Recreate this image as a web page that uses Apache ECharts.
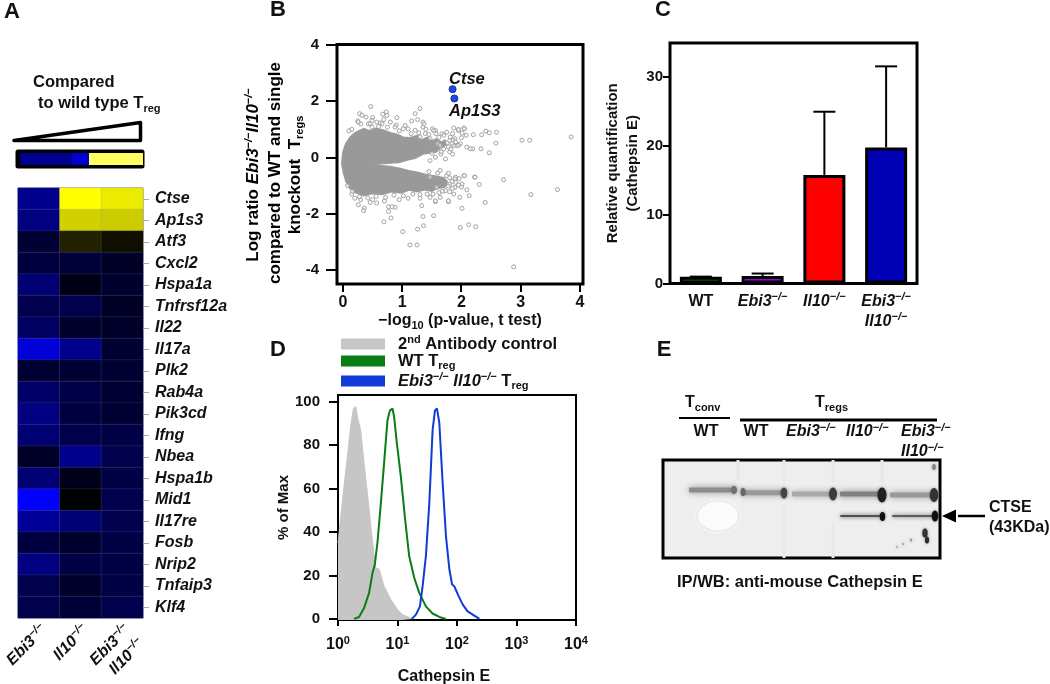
<!DOCTYPE html>
<html><head><meta charset="utf-8">
<style>html,body{margin:0;padding:0;background:#fff}#c{width:1050px;height:684px}</style>
<script src="https://cdn.jsdelivr.net/npm/echarts@6/dist/echarts.min.js"></script></head>
<body><div id="c"></div>
<script>
// Panel A
const genes=['Ctse','Ap1s3','Atf3','Cxcl2','Hspa1a','Tnfrsf12a','Il22','Il17a','Plk2','Rab4a','Pik3cd','Ifng','Nbea','Hspa1b','Mid1','Il17re','Fosb','Nrip2','Tnfaip3','Klf4'];
const genotypesA=['Ebi3','Il10','Ebi3+Il10'];
const ebi3Col=[-.55,-.5,-.2,-.25,-.45,-.3,-.38,-.85,-.2,-.4,-.5,-.45,-.15,-.45,-1,-.6,-.25,-.5,-.3,-.3];
const il10Col=[1,.82,.13,-.22,-.08,-.3,-.17,-.55,-.2,-.28,-.25,-.3,-.55,-.1,0,-.45,-.18,-.27,-.17,-.22];
const dkoCol=[.92,.8,.06,-.15,-.18,-.15,-.17,-.2,-.2,-.2,-.2,-.27,-.3,-.27,-.3,-.3,-.27,-.27,-.27,-.3];
// Panel B
const ticksBx=[0,1,2,3,4];
const ticksBy=[-4,-2,0,2,4];
const cloudOutline=[[-.02,-.22],[0,.2],[.05,.5],[.12,.72],[.2,.88],[.35,1.03],[.45,.95],[.55,1.03],[.68,.98],[.8,.88],[.92,.82],[1.02,.72],[1.13,.7],[1.25,.78],[1.32,.62],[1.42,.72],[1.5,.6],[1.58,.66],[1.66,.55],[1.72,.62],[1.75,.45],[1.64,.34],[1.58,.2],[1.47,.16],[1.35,.12],[1.22,-.03],[1.1,-.08],[.95,-.18],[.8,-.2],[.6,-.23],[.43,-.25],[.6,-.28],[.8,-.32],[.95,-.38],[1.1,-.46],[1.25,-.52],[1.4,-.6],[1.55,-.66],[1.7,-.72],[1.76,-.85],[1.72,-1.05],[1.6,-1.1],[1.5,-1.2],[1.38,-1.15],[1.25,-1.22],[1.12,-1.16],[.98,-1.26],[.82,-1.22],[.66,-1.32],[.5,-1.28],[.35,-1.36],[.22,-1.26],[.12,-1.1],[.05,-.85],[.01,-.55]];
const probes=[[.47,1.81],[1.3,1.74],[.73,1.62],[.28,1.56],[.67,1.54],[1.22,1.56],[.32,1.5],[.39,1.44],[.5,1.42],[.91,1.42],[1.16,1.3],[1.26,1.35],[.74,1.5],[.69,1.35],[.57,1.26],[.63,1.23],[.43,1.2],[.49,1.32],[.8,1.26],[1.35,1.26],[1.05,1.14],[1.35,1.08],[1.51,1.02],[1.56,.96],[1.87,1.05],[2.04,1.05],[1.95,.96],[2.01,.87],[2.08,.79],[1.85,.85],[1.67,.85],[2.2,.81],[2.34,.81],[2.41,.94],[2.47,.88],[2.59,.9],[2.58,.51],[2.47,.17],[2.33,.31],[2.19,.31],[2.09,.37],[2.15,.31],[1.98,.49],[1.92,.43],[3.02,.61],[3.15,.61],[3.85,.73],
[.26,-1.68],[.36,-1.8],[.35,-1.89],[.69,-2.29],[.81,-2.15],[.77,-1.92],[.88,-1.77],[.77,-1.75],[.83,-1.75],[.57,-1.62],[.46,-1.6],[1.01,-2.64],[1.13,-3.11],[1.25,-3.11],[1.26,-2.55],[1.36,-2.43],[1.35,-2.1],[1.53,-2.07],[1.33,-1.71],[1.56,-1.57],[1.78,-1.57],[2.01,-1.81],[1.98,-2.49],[2.12,-2.39],[2.24,-2.46],[2.4,-1.6],[2.13,-1.36],[2.3,-.96],[2.22,-.7],[2.04,-.64],[2.71,-.79],[3.17,-1.32],[3.62,-1.14],[2.88,-3.89],[1.97,-1.42],[1.87,-1.3],[2.09,-1.15],[1.64,-1.42],[1.47,-1.42],
[1.96,-.75],[2,-1.05],[1.9,-.7],[1.75,-.65],[1.6,-.55],[1.45,-.5],[1.5,.15],[1.65,.12],[1.8,.2],[1.85,.12],[2,.7],[1.75,.9],[1.4,1],[1.1,1.02],[.9,1.15],[.3,1.2],[.25,1.3],[.15,1],[.1,.95],[.2,-1.45],[.3,-1.5],[.5,-1.5],[.7,-1.55],[.95,-1.5],[1.1,-1.45],[1.3,-1.45],[.15,-1.3],
[1.53,.96],[1.57,.85],[.26,1.26],[.46,1.2],[.66,1.2],[.49,1.08],[.88,1.08],[1.02,1.02],[1.22,.97],[1.39,.85],[1.47,.67],[1.6,.49],[1.3,.73],[1.95,1.0],[2.05,1.02],[1.89,.67],[1.81,.73],[1.7,.79],[1.37,1.2],[1.64,.43],[1.73,-.05],[1.47,-.11],[1.56,.01],[1.87,.43],[1.95,.43],[1.64,-.46],[1.78,-.56],[1.89,-.76],[2.05,-.65],[2.23,-.7],[1.78,-1.54],[1.56,-1.54],[1.89,-1.06],[2.01,-.94],[1.73,-1.18],[1.47,-.7],[1.58,-1.06],
[1.8,.6],[1.84,.5],[1.78,.38],[1.7,.3],[1.86,.62],[1.9,.55],[1.76,.52],[1.66,.2],[1.82,.3],[1.8,-.72],[1.84,-.85],[1.8,-.95],[1.85,-1.1],[1.78,-1.02],[1.68,-1.2],[1.8,-1.22],[1.9,-.88],[1.95,-.98],[1.62,-1.25],[1.52,-1.3],[1.42,-1.3],[1.3,-1.32],[1.18,-1.3],[1.02,-1.36],[.86,-1.34],[.72,-1.42],[.56,-1.38],[.42,-1.44],[.28,-1.4],[.16,-1.2],[.08,-1.0],[.6,1.1],[.75,1.08],[.95,.95],[1.15,.85],[1.28,.88],[1.45,.82],[1.62,.72]];
const hits=[{name:'Ctse',value:[1.85,2.43]},{name:'Ap1S3',value:[1.88,2.1]}];
// Panel C
const barCats=['WT','Ebi3','Il10','Ebi3+Il10'];
const barMeans=[1,1.1,15.8,19.8];
const barUpper=[1,1.45,25,31.6];
const ticksCy=[0,10,20,30];
// Panel D
const ticksDx=[1,10,100,1000,10000];
const ticksDy=[0,20,40,60,80,100];
const secondAb=[[1,35],[1.11,47],[1.26,61],[1.44,75],[1.63,89],[1.81,96.8],[1.98,97.9],[2.17,92],[2.41,87],[2.74,72],[3.12,58],[3.55,43],[4.04,29.5],[4.31,23.5],[4.91,23],[5.96,15],[7.72,9],[10,4.3],[12.1,2],[17.9,0]];
const wtTreg=[[1.86,0],[2.26,.9],[2.74,5],[3.33,12],[3.79,21],[4.15,25],[4.6,35],[5.24,53],[5.96,72],[6.78,91.5],[7.43,96],[8.24,97],[8.79,93],[9.75,81],[11.4,65.5],[13.3,47],[15.7,29],[19.1,19],[23.2,12],[30,5.8],[38.9,2.5],[50.4,.9],[65.3,0]];
const dkoTreg=[[17.4,0],[20.4,2],[23.8,5.8],[26.4,15],[30,29],[34.2,53],[38.9,87],[42.6,96],[46,97],[50.4,90.5],[57.3,63],[65.3,38],[74.3,23],[82.4,16],[90.2,15],[107,10.4],[125,6.6],[151,3.5],[184,2],[238,0]];
// Panel E: [start, end, depth, darkness]
const blotBands=[[26,74,30,.42],[79,124,32.7,.36],[129,174,34,.28],[177,222,34,.48],[227,274,35,.36],[177,222,56,.72],[229,274,56,.66]];
const blotSpots=[[71,30,8,.45],[80,32,8,.5],[121,33,11,.7],[170,34,13,.75],[219,35,15,.9],[271,35,14,.8],[219.5,56.5,9,1],[272,56,11,1],[262,73,9,.8],[264,80,7,.85],[248,80,3,.25],[240,84,2.5,.2],[234,87,2.5,.15],[271,7,6,.35]];
const blotStreaks=[[121,0,22],[170,0,22],[219,0,22],[75,0,20],[121,45,98],[170,62,98]];

const F='"Liberation Sans",Arial,sans-serif';
const base={fontFamily:F,fontWeight:'bold',color:'#111'};
const richKO={b:{fontFamily:F,fontWeight:'bold',fontStyle:'italic',fontSize:16,color:'#111',lineHeight:20},
  s:{fontFamily:F,fontWeight:'bold',fontStyle:'italic',fontSize:11,color:'#111',verticalAlign:'top',lineHeight:20},
  n:{fontFamily:F,fontWeight:'bold',fontSize:16,color:'#111',lineHeight:20},
  u:{fontFamily:F,fontWeight:'bold',fontSize:11,color:'#111',verticalAlign:'bottom',lineHeight:20},
  p:{fontFamily:F,fontWeight:'bold',fontSize:11,color:'#111',verticalAlign:'top',lineHeight:20},
  gap2:{fontSize:8,lineHeight:16},gap3:{fontSize:8,lineHeight:36}};
const KO='{s|−/−}';
const geno={Ebi3:`{b|Ebi3}${KO}`,Il10:`{b|Il10}${KO}`,'Ebi3+Il10':`{b|Ebi3}${KO}\n{b|Il10}${KO}`,WT:'{n|WT}'};
const heat=[];
[ebi3Col,il10Col,dkoCol].forEach((col,x)=>col.forEach((v,y)=>heat.push([x,y,v])));
const errData=barUpper.map((u,i)=>[i,barMeans[i],u]);

const text=(x,y,t,size,extra={})=>({type:'text',x,y,z:50,style:Object.assign({text:t,rich:richKO,fontFamily:F,fontWeight:'bold',fontSize:size||16,fill:'#111',verticalAlign:'middle'},extra)});
const letter=(x,y,t)=>text(x,y,t,22,{align:'center'});
const line=(x1,y1,x2,y2,w,c)=>({type:'line',z:50,shape:{x1,y1,x2,y2},style:{stroke:c||'#000',lineWidth:w}});
const richL={n:{fontFamily:F,fontWeight:'bold',fontSize:17,color:'#111',lineHeight:20},b:{fontFamily:F,fontWeight:'bold',fontStyle:'italic',fontSize:17,color:'#111',lineHeight:20},s:{fontFamily:F,fontWeight:'bold',fontStyle:'italic',fontSize:11,color:'#111',verticalAlign:'top',lineHeight:20},u:{fontFamily:F,fontWeight:'bold',fontSize:11,color:'#111',verticalAlign:'bottom',lineHeight:20}};
const vtext=(x,y,t)=>({type:'text',z:50,rotation:Math.PI/2,x,y,style:{text:t,rich:richL,align:'center',verticalAlign:'middle'}});
const edge={show:false,onZero:false};
// Grid geometry and axis ranges, shared by the grids, the axes and the tick marks
const G={a:{left:18,top:188,width:125,height:430},b:{left:337,top:44.5,width:246,height:239.5},c:{left:670,top:43,width:247,height:240.5},d:{left:338,top:395,width:238,height:225},e:{left:663,top:460,width:277,height:98}};
const R={bx:[-.1,4.05],by:[-4.5,4.02],cy:[0,35],dy:[-.5,103.2]};
const py=(g,r,v)=>Math.round(g.top+g.height*(r[1]-v)/(r[1]-r[0]));
const px=(g,r,v)=>Math.round(g.left+g.width*(v-r[0])/(r[1]-r[0]));
const tickLines=[
 ...genes.map((n,i)=>{const y=Math.round(G.a.top+G.a.height*(i+.5)/genes.length)+.5;return line(143,y,149,y,1,'#aaa');}),
 ...ticksBy.map(v=>{const y=py(G.b,R.by,v);return line(326,y,337,y,2);}),
 ...ticksBx.map(v=>{const x=px(G.b,R.bx,v);return line(x,284,x,292,2);}),
 ...ticksCy.map(v=>{const y=py(G.c,R.cy,v);return line(663,y,670,y,2);}),
 ...ticksDy.map(v=>{const y=py(G.d,R.dy,v);return line(329,y,338,y,2);}),
 ...ticksDx.map(v=>{const x=Math.round(G.d.left+G.d.width*Math.log10(v)/4);return line(x,620,x,626,2);})
];

const option={
 animation:false,backgroundColor:'#fff',
 textStyle:{fontFamily:F},
 grid:[
  {...G.a,outerBoundsMode:'none',show:true,borderColor:'#7a7a9a',borderWidth:1},
  {...G.b,outerBoundsMode:'none',show:true,borderColor:'#000',borderWidth:3},
  {...G.c,outerBoundsMode:'none',show:true,borderColor:'#000',borderWidth:3},
  {...G.d,outerBoundsMode:'none',show:true,borderColor:'#000',borderWidth:2},
  {...G.e,outerBoundsMode:'none',show:true,borderColor:'#000',borderWidth:3,backgroundColor:'#eeeeee'}
 ],
 xAxis:[
  {gridIndex:0,type:'category',data:genotypesA,axisTick:{show:false},axisLine:{show:false},splitLine:{show:false},
   axisLabel:{interval:0,rotate:45,margin:4,formatter:v=>(v==='Ebi3+Il10'?'{gap3| }\n':'{gap2| }\n')+geno[v],rich:richKO}},
  {gridIndex:1,type:'value',min:R.bx[0],max:R.bx[1],axisLine:edge,axisTick:{show:false},splitLine:{show:false},
   axisLabel:{customValues:ticksBx,margin:11,...base,fontSize:16},
   name:'{n|−log}{u|10}{n| (p-value, t test)}',nameLocation:'middle',nameGap:27,nameTextStyle:{rich:richKO}},
  {gridIndex:2,type:'category',data:barCats,axisTick:{show:false},axisLine:{show:false},
   axisLabel:{interval:0,margin:8,formatter:v=>geno[v],rich:richKO,lineHeight:22}},
  {gridIndex:3,type:'log',logBase:10,min:1,max:10000,axisLine:edge,axisTick:{show:false},splitLine:{show:false},minorTick:{show:false},
   axisLabel:{margin:15,formatter:v=>`{n|10}{p|${Math.round(Math.log10(v))}}`,rich:richKO},
   name:'Cathepsin E',nameLocation:'middle',nameGap:49,nameTextStyle:{...base,fontSize:16,padding:[0,26,0,0]}},
  {gridIndex:4,type:'value',min:0,max:277,show:false}
 ],
 yAxis:[
  {gridIndex:0,type:'category',data:genes,inverse:true,position:'right',axisLine:{show:false},axisTick:{show:false},splitLine:{show:false},
   axisLabel:{interval:0,margin:12,...base,fontStyle:'italic',fontSize:16}},
  {gridIndex:1,type:'value',min:R.by[0],max:R.by[1],axisLine:edge,axisTick:{show:false},splitLine:{show:false},
   axisLabel:{customValues:ticksBy,margin:18,...base,fontSize:15,formatter:v=>String(v)}},
  {gridIndex:2,type:'value',min:R.cy[0],max:R.cy[1],axisLine:edge,axisTick:{show:false},splitLine:{show:false},
   axisLabel:{customValues:ticksCy,margin:7,...base,fontSize:15,formatter:v=>String(v)},
   name:'Relative quantification\n(Cathepsin E)',nameLocation:'middle',nameGap:27,nameTextStyle:{...base,fontSize:15,lineHeight:20}},
  {gridIndex:3,type:'value',min:R.dy[0],max:R.dy[1],axisLine:edge,axisTick:{show:false},splitLine:{show:false},
   axisLabel:{customValues:ticksDy,margin:18,...base,fontSize:15,formatter:v=>String(v)},
   name:'% of Max',nameLocation:'middle',nameGap:42,nameTextStyle:{...base,fontSize:15}},
  {gridIndex:4,type:'value',min:0,max:98,inverse:true,show:false}
 ],
 visualMap:{show:false,seriesIndex:0,min:-1,max:1,inRange:{color:['#0000ff','#000000','#ffff00']}},
 legend:{left:336,top:329,orient:'vertical',itemWidth:44,itemHeight:11,itemGap:0,icon:'rect',
  data:['2nd','WT','DKO'],selectedMode:false,
  formatter:n=>({'2nd':'{n|2}{p|nd}{n| Antibody control}','WT':'{n|WT T}{u|reg}','DKO':'{b|Ebi3}{s|−/−}{b| Il10}{s|−/−}{n| T}{u|reg}'}[n]),
  textStyle:{rich:{...richKO,n:{...richKO.n,fontSize:16.5},b:{...richKO.b,fontSize:16.5}},padding:[0,0,0,8]}},
 series:[
  {type:'heatmap',name:'Expression',xAxisIndex:0,yAxisIndex:0,data:heat,itemStyle:{borderColor:'rgba(130,130,160,.35)',borderWidth:.5}},
  {type:'custom',name:'Probe cloud',xAxisIndex:1,yAxisIndex:1,data:cloudOutline,z:2,
   renderItem:(p,api)=>p.dataIndex===0?{type:'polygon',shape:{points:cloudOutline.map(c=>api.coord(c))},style:{fill:'#999',stroke:'#9c9c9c',lineWidth:1.5}}:null},
  {type:'scatter',name:'Probes',xAxisIndex:1,yAxisIndex:1,data:probes,symbolSize:4,z:3,itemStyle:{color:'rgba(255,255,255,.45)',borderColor:'#a2a2a2',borderWidth:1,opacity:1}},
  {type:'scatter',name:'Hits',xAxisIndex:1,yAxisIndex:1,data:hits,symbolSize:7,z:4,itemStyle:{color:'#1d49e8',borderColor:'#1a2f90',borderWidth:1,opacity:1},
   label:{show:true,formatter:'{b}',...base,fontStyle:'italic',fontSize:16.5,opacity:1,position:'top'},
   labelLayout:p=>p.dataIndex===0?{x:449,y:79,align:'left',verticalAlign:'middle'}:{x:449,y:111,align:'left',verticalAlign:'middle'}},
  {type:'bar',name:'Cathepsin E',xAxisIndex:2,yAxisIndex:2,barWidth:42,z:3,
   data:barMeans.map((v,i)=>({value:v,itemStyle:{color:['#007a00','#a000d8','#ff0000','#0000b4'][i]}})),
   itemStyle:{borderColor:'#000',borderWidth:3}},
  {type:'custom',name:'SEM',xAxisIndex:2,yAxisIndex:2,data:errData,encode:{x:0,y:[1,2]},z:2,
   renderItem:(p,api)=>{const a=api.coord([api.value(0),api.value(1)]),b=api.coord([api.value(0),api.value(2)]);
    return {type:'group',children:[{type:'line',shape:{x1:a[0],y1:a[1],x2:b[0],y2:b[1]},style:{stroke:'#000',lineWidth:2}},
     {type:'line',shape:{x1:b[0]-11,y1:b[1],x2:b[0]+11,y2:b[1]},style:{stroke:'#000',lineWidth:2}}]};}},
  {type:'line',name:'2nd',xAxisIndex:3,yAxisIndex:3,data:secondAb,symbol:'none',z:1,lineStyle:{color:'#c6c6c6',width:1},itemStyle:{color:'#c6c6c6'},areaStyle:{color:'#c6c6c6',origin:'start',opacity:1}},
  {type:'line',name:'WT',xAxisIndex:3,yAxisIndex:3,data:wtTreg,symbol:'none',z:2,lineStyle:{color:'#0a7d16',width:2},itemStyle:{color:'#0a7d16'}},
  {type:'line',name:'DKO',xAxisIndex:3,yAxisIndex:3,data:dkoTreg,symbol:'none',z:3,lineStyle:{color:'#0f3bd6',width:2},itemStyle:{color:'#0f3bd6'}},
  {type:'custom',name:'Blot lanes',xAxisIndex:4,yAxisIndex:4,data:blotStreaks,z:1,
   renderItem:(p,api)=>{const a=api.coord([api.value(0),api.value(1)]),b=api.coord([api.value(0),api.value(2)]);
    return {type:'line',shape:{x1:a[0],y1:a[1],x2:b[0],y2:b[1]},style:{stroke:'#e8e8e8',lineWidth:3}};}},
  {type:'scatter',name:'Blot patch',xAxisIndex:4,yAxisIndex:4,data:[[55,56]],symbolSize:[42,30],z:1,silent:true,itemStyle:{color:'#fbfbfb',opacity:1,borderColor:'#e4e4e4',borderWidth:1,shadowBlur:4,shadowColor:'#fff'}},
  {type:'custom',name:'Blot bands',xAxisIndex:4,yAxisIndex:4,data:blotBands,z:2,
   renderItem:(p,api)=>{const a=api.coord([api.value(0),api.value(2)]),b=api.coord([api.value(1),api.value(2)]),d=Math.round(225-200*api.value(3)),low=p.dataIndex>=5;
    const c=`rgb(${d},${d},${d})`;
    return {type:'rect',shape:{x:a[0],y:a[1]-(low?1:2.5),width:b[0]-a[0],height:low?2:5,r:1},style:{fill:c,shadowBlur:low?4:6,shadowColor:c}};}},
  {type:'scatter',name:'Blot spots',xAxisIndex:4,yAxisIndex:4,data:blotSpots,z:3,silent:true,
   symbolSize:v=>[v[2]*.6,v[2]],itemStyle:{opacity:1,color:p=>{const d=Math.round(190-175*p.value[3]);return `rgb(${d},${d},${d})`;},shadowBlur:3,shadowColor:'rgba(40,40,40,.45)'}}
 ],
 graphic:[
  letter(12,12,'A'),letter(278,10,'B'),letter(663,10,'C'),letter(278,350,'D'),letter(664,350,'E'),
  text(33,82,'Compared',16.5),
  text(38,103,'{h|to wild type T}{hs|reg}',17,{rich:{h:{fontFamily:F,fontWeight:'bold',fontSize:16.5,color:'#111',lineHeight:22},hs:{fontFamily:F,fontWeight:'bold',fontSize:11,color:'#111',verticalAlign:'bottom',lineHeight:22}}}),
  {type:'polygon',z:50,shape:{points:[[14,140.5],[140.5,122.5],[140.5,140.5]]},style:{fill:'#fff',stroke:'#000',lineWidth:3.5,lineJoin:'round'}},
  {type:'rect',z:50,shape:{x:17,y:151,width:126,height:16,r:1},style:{fill:'#000',stroke:'#000',lineWidth:3}},
  {type:'rect',z:51,shape:{x:20,y:153,width:52,height:12},style:{fill:'#000090'}},
  {type:'rect',z:51,shape:{x:72,y:153,width:17,height:12},style:{fill:'#0000d0'}},
  {type:'rect',z:51,shape:{x:89,y:153,width:54,height:12},style:{fill:'#ffff60'}},
  vtext(253,175,'{n|Log ratio }{b|Ebi3}{s|−/−}{b|Il10}{s|−/−}'),
  vtext(275,173,'{n|compared to WT and single}'),
  vtext(295,175,'{n|knockout  T}{u|regs}'),
  text(685,403,'{n|T}{u|conv}',16), line(679,418,730,418,2),
  text(815,403,'{n|T}{u|regs}',16), line(740,420,937,420,3),
  text(706,432,'{n|WT}',16,{align:'center'}), text(756,432,'{n|WT}',16,{align:'center'}),
  text(786,432,`{b|Ebi3}${KO}`), text(846,432,`{b|Il10}${KO}`), text(901,432,`{b|Ebi3}${KO}`), text(901,452,`{b|Il10}${KO}`),
  line(958,516,985,516,2.5),
  {type:'polygon',z:50,shape:{points:[[942,516],[956,509.5],[956,522.5]]},style:{fill:'#000'}},
  text(989,508,'CTSE',16), text(989,528,'(43KDa)',16),
  text(677,582,'IP/WB: anti-mouse Cathepsin E',16.5),
  ...tickLines
 ]
};
echarts.init(document.getElementById('c'),null,{renderer:'canvas'}).setOption(option);
</script></body></html>
